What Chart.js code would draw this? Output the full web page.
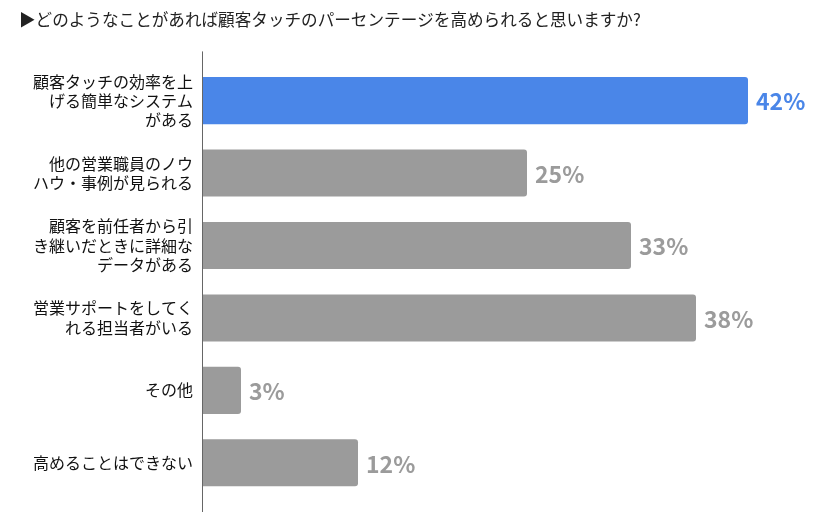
<!DOCTYPE html>
<html><head><meta charset="utf-8">
<script src="https://cdn.jsdelivr.net/npm/chart.js@4/dist/chart.umd.min.js"></script>
<style>html,body{margin:0;padding:0;background:#fff;overflow:hidden}canvas{display:block}</style>
</head><body><canvas id="c" width="840" height="519" style="width:840px;height:519px"></canvas>
<script>
const titleText = "▶どのようなことがあれば顧客タッチのパーセンテージを高められると思いますか?";
const categories = [
  ["顧客タッチの効率を上", "げる簡単なシステム", "がある"],
  ["他の営業職員のノウ", "ハウ・事例が見られる"],
  ["顧客を前任者から引", "き継いだときに詳細な", "データがある"],
  ["営業サポートをしてく", "れる担当者がいる"],
  ["その他"],
  ["高めることはできない"]
];
const values = [42, 25, 33, 38, 3, 12];
const valueLabels = ["42%", "25%", "33%", "38%", "3%", "12%"];
const highlightIndex = 0;

const BLUE = "#4A86E8", GRAY = "#9B9B9B";
const colors = values.map((v, i) => i === highlightIndex ? BLUE : GRAY);
const FONT = "'Noto Sans CJK JP', 'Noto Sans', sans-serif";

const extras = {
  id: "extras",
  afterDatasetsDraw(chart) {
    const ctx = chart.ctx;
    const meta = chart.getDatasetMeta(0);
    ctx.save();
    ctx.font = "bold 23px " + FONT;
    ctx.textBaseline = "middle";
    ctx.textAlign = "left";
    meta.data.forEach((bar, i) => {
      ctx.fillStyle = colors[i];
      ctx.fillText(valueLabels[i], bar.x + 8, bar.y + 1);
    });
    const a = chart.chartArea;
    ctx.strokeStyle = "#666";
    ctx.lineWidth = 1;
    ctx.beginPath();
    ctx.moveTo(a.left + 0.5, a.top - 13);
    ctx.lineTo(a.left + 0.5, a.bottom + 13);
    ctx.stroke();
    ctx.restore();
  }
};

new Chart(document.getElementById("c"), {
  type: "bar",
  data: {
    labels: categories,
    datasets: [{
      data: values,
      backgroundColor: colors,
      borderRadius: 3,
      borderSkipped: "start",
      barPercentage: 0.65,
      categoryPercentage: 1.0
    }]
  },
  options: {
    indexAxis: "y",
    responsive: false,
    animation: false,
    layout: { padding: { left: 19, right: 53, top: 0, bottom: 20 } },
    plugins: {
      legend: { display: false },
      tooltip: { enabled: false },
      title: {
        display: true,
        text: titleText,
        align: "start",
        color: "#222",
        font: { family: FONT, size: 16.6, weight: "normal", lineHeight: 1.2 },
        padding: { top: 10, bottom: 34.5 }
      }
    },
    scales: {
      x: { display: false, min: 0, max: 45 },
      y: {
        afterFit(scale) {
          scale.width = 183;
          scale.paddingTop = 0;
          scale.paddingBottom = 0;
        },
        grid: { display: false, drawTicks: false },
        border: { display: false },
        ticks: {
          color: "#111",
          padding: 9,
          font: { family: FONT, size: 16, lineHeight: 1.2 }
        }
      }
    }
  },
  plugins: [extras]
});
</script></body></html>
